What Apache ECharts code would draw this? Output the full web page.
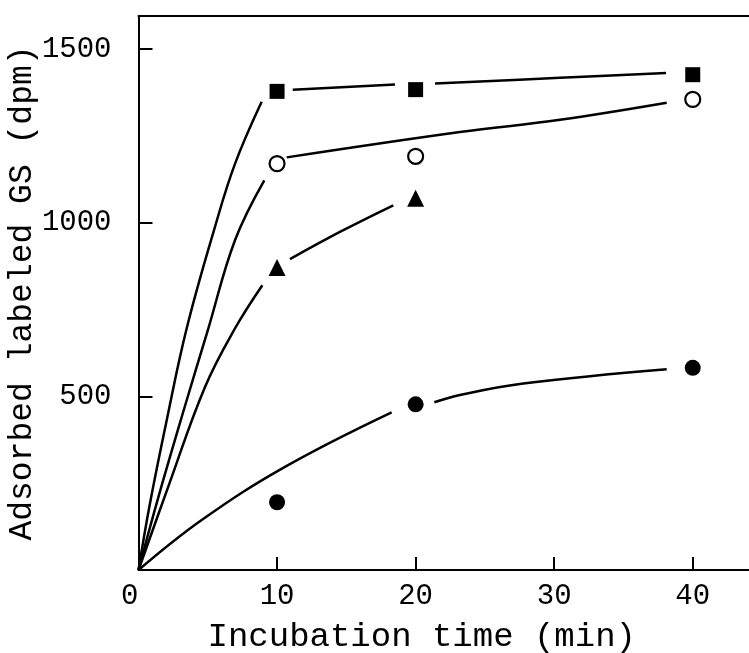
<!DOCTYPE html>
<html><head><meta charset="utf-8">
<script src="https://cdn.jsdelivr.net/npm/echarts@6/dist/echarts.min.js"></script>
<style>html,body{margin:0;padding:0;background:#fff}#c{width:749px;height:653px}</style>
</head><body><div id="c"></div>
<script>
const xAxisName = 'Incubation time (min)';
const yAxisName = 'Adsorbed labeled GS (dpm)';
const xMin = 0, xMax = 44.06, xStep = 10;
const yMin = 0, yMax = 1595, yStep = 500;

// measured points
const squareX = [10, 20, 40];
const squareY = [1378, 1383, 1426];
const openCircleX = [10, 20, 40];
const openCircleY = [1170, 1191, 1355];
const triangleX = [10, 20];
const triangleY = [871, 1070];
const filledCircleX = [10, 20, 40];
const filledCircleY = [195, 477, 582];

// hand-drawn fitted curves (null = gap near a marker)
const squareCurveX = [0, 0.83, 2.04, 3.48, 5.52, 6.97, 8.89, null, 11.13, 18.51, null, 21.40, 30.42, 38.07];
const squareCurveY = [0, 192, 432, 696, 988, 1170, 1348, null, 1383, 1398, null, 1401, 1417, 1431];
const openCircleCurveX = [0, 1.4, 3.3, 5.0, 6.97, 9.08, null, 10.70, 23.20, 30.42, 38.12];
const openCircleCurveY = [0, 205, 465, 690, 950, 1122, null, 1188, 1261, 1296, 1345];
const triangleCurveX = [0, 2.15, 4.80, 6.97, 8.94, null, 10.93, 14.57, 18.39];
const triangleCurveY = [0, 240, 527, 696, 820, null, 895, 974, 1050];
const filledCircleCurveX = [0, 4.56, 10.57, 18.27, null, 21.35, 23.20, 27.77, 38.12];
const filledCircleCurveY = [0, 144, 297, 454, null, 483, 504, 537, 578];

const FONT = 'Liberation Mono';
function pairs(xs, ys) { return xs.map((x, i) => (x === null || ys[i] === null) ? ['-', '-'] : [x, ys[i]]); }
function curve(xs, ys) {
  return { type: 'line', data: pairs(xs, ys), smooth: 0.4, showSymbol: false, symbol: 'none',
    connectNulls: false, lineStyle: { color: '#000', width: 2.5 }, z: 2, silent: true, animation: false };
}
function marks(xs, ys, symbol, size, fill, bw) {
  return { type: 'scatter', data: pairs(xs, ys), symbol: symbol, symbolSize: size,
    itemStyle: { color: fill, borderColor: '#000', borderWidth: bw, opacity: 1 }, z: 5, animation: false };
}

const chart = echarts.init(document.getElementById('c'), null, { renderer: 'canvas' });
chart.setOption({
  backgroundColor: '#fff',
  animation: false,
  grid: { left: 138.5, right: 0, top: 16, bottom: 83, containLabel: false, outerBoundsMode: 'none' },
  xAxis: [{
    type: 'value', min: xMin, max: xMax, interval: xStep, position: 'bottom',
    name: xAxisName, nameLocation: 'middle', nameGap: 50, nameMoveOverlap: false,
    nameTextStyle: { fontFamily: FONT, fontSize: 34, color: '#000', padding: [0, 44, 0, 0] },
    axisLine: { show: true, onZero: false, lineStyle: { color: '#000', width: 2 } },
    axisTick: { show: true, inside: true, length: 13, lineStyle: { color: '#000', width: 2 } },
    axisLabel: { fontFamily: FONT, fontSize: 29, color: '#000', margin: 12, alignMinLabel: 'right', showMaxLabel: false,
      formatter: v => (v % xStep === 0 ? String(v) : '') },
    splitLine: { show: false }
  }, {
    type: 'value', min: xMin, max: xMax, position: 'top',
    axisLine: { show: true, onZero: false, lineStyle: { color: '#000', width: 2 } },
    axisTick: { show: false }, axisLabel: { show: false }, splitLine: { show: false }
  }],
  yAxis: {
    type: 'value', min: yMin, max: yMax, interval: yStep,
    name: yAxisName, nameLocation: 'middle', nameGap: 100, nameMoveOverlap: false,
    nameTextStyle: { fontFamily: FONT, fontSize: 33, color: '#000' },
    axisLine: { show: true, onZero: false, lineStyle: { color: '#000', width: 2 } },
    axisTick: { show: true, inside: true, length: 14, lineStyle: { color: '#000', width: 2 } },
    axisLabel: { fontFamily: FONT, fontSize: 29, color: '#000', margin: 27, showMinLabel: false, showMaxLabel: false,
      formatter: v => (v % yStep === 0 ? String(v) : '') },
    splitLine: { show: false }
  },
  series: [
    curve(squareCurveX, squareCurveY),
    curve(openCircleCurveX, openCircleCurveY),
    curve(triangleCurveX, triangleCurveY),
    curve(filledCircleCurveX, filledCircleCurveY),
    marks(squareX, squareY, 'rect', 15, '#000', 0),
    marks(openCircleX, openCircleY, 'circle', 15, '#fff', 2.2),
    marks(triangleX, triangleY, 'triangle', 17, '#000', 0),
    marks(filledCircleX, filledCircleY, 'circle', 16, '#000', 0)
  ]
});
</script></body></html>
